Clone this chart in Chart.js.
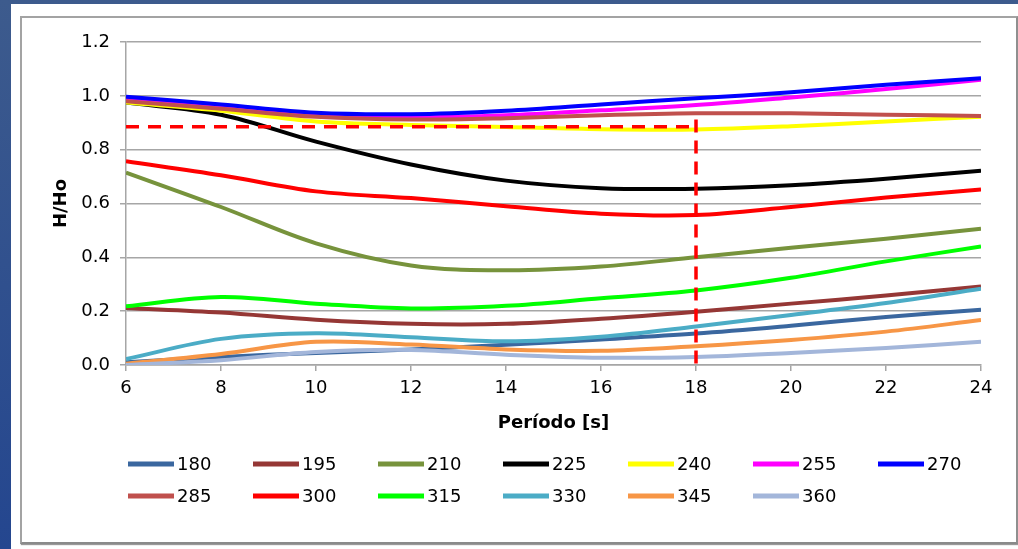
<!DOCTYPE html>
<html><head><meta charset="utf-8">
<script src="https://cdn.jsdelivr.net/npm/chart.js@4.4.0/dist/chart.umd.min.js"></script>
<style>
html,body{margin:0;padding:0;width:1018px;height:549px;overflow:hidden;background:linear-gradient(#3d5b8d,#24468f);}
#panel{position:absolute;left:11px;top:4px;right:0;bottom:0;background:#fff;}
#frame{position:absolute;left:20px;top:16px;width:994px;height:524px;border:2px solid #a3a3a3;border-right-color:#8f8f8f;border-bottom-color:#8a8a8a;box-shadow:1px 1px 1px #999;}
canvas{position:absolute;left:0;top:0;}
</style></head>
<body>
<div id="panel"></div>
<div id="frame"></div>
<canvas id="c" width="1018" height="549"></canvas>
<script>
const periods = [6, 8, 10, 12, 14, 16, 18, 20, 22, 24];
const seriesNames = ['180','195','210','225','240','255','270','285','300','315','330','345','360'];
const s180 = [0.010, 0.030, 0.045, 0.058, 0.075, 0.095, 0.117, 0.146, 0.178, 0.205];
const s195 = [0.212, 0.195, 0.168, 0.153, 0.153, 0.172, 0.198, 0.228, 0.258, 0.292];
const s210 = [0.715, 0.587, 0.452, 0.370, 0.352, 0.366, 0.400, 0.436, 0.469, 0.506];
const s225 = [0.975, 0.930, 0.830, 0.745, 0.685, 0.657, 0.655, 0.668, 0.692, 0.722];
const s240 = [0.975, 0.945, 0.905, 0.892, 0.884, 0.876, 0.875, 0.887, 0.905, 0.922];
const s255 = [0.985, 0.957, 0.927, 0.920, 0.928, 0.946, 0.966, 0.994, 1.025, 1.060];
const s270 = [0.997, 0.968, 0.937, 0.932, 0.945, 0.968, 0.991, 1.013, 1.041, 1.065];
const s285 = [0.980, 0.952, 0.922, 0.912, 0.917, 0.928, 0.935, 0.935, 0.930, 0.925];
const s300 = [0.757, 0.705, 0.645, 0.620, 0.590, 0.562, 0.557, 0.587, 0.622, 0.652];
const s315 = [0.218, 0.253, 0.228, 0.210, 0.220, 0.248, 0.277, 0.324, 0.385, 0.440];
const s330 = [0.022, 0.097, 0.118, 0.103, 0.088, 0.105, 0.143, 0.186, 0.230, 0.283];
const s345 = [0.005, 0.041, 0.086, 0.076, 0.058, 0.053, 0.070, 0.093, 0.124, 0.167];
const s360 = [0.000, 0.018, 0.048, 0.056, 0.038, 0.027, 0.030, 0.045, 0.063, 0.086];
const seriesValues = [s180, s195, s210, s225, s240, s255, s270, s285, s300, s315, s330, s345, s360];
const seriesColors = ['#3a679f','#953735','#77933c','#000000','#ffff00','#ff00ff','#0000ff','#c0504d','#ff0000','#00ff00','#4bacc6','#f79646','#a3b6da'];
const refHX = [6, 18];
const refHY = [0.885, 0.885];
const refVX = [18, 18];
const refVY = [0.912, 0];
const yTicks = [0, 0.2, 0.4, 0.6, 0.8, 1.0, 1.2];
const xTicks = [6, 8, 10, 12, 14, 16, 18, 20, 22, 24];

const FONT = '"DejaVu Sans", "Liberation Sans", Arial, sans-serif';
const GRID = '#a6a6a6';

const datasets = seriesNames.map((n, i) => ({
  label: n,
  data: periods.map((p, j) => ({x: p, y: seriesValues[i][j]})),
  borderColor: seriesColors[i],
  backgroundColor: seriesColors[i],
  borderWidth: 4,
  pointRadius: 0,
  tension: 0.35,
  fill: false,
  order: 20 - i
}));
datasets.push({
  label: 'refH',
  data: refHX.map((x, j) => ({x, y: refHY[j]})),
  borderColor: '#ff0000', borderWidth: 3.5, borderDash: [13, 9], pointRadius: 0, tension: 0, order: 1
});
datasets.push({
  label: 'refV',
  data: refVX.map((x, j) => ({x, y: refVY[j]})),
  borderColor: '#ff0000', borderWidth: 3.5, borderDash: [13, 8], pointRadius: 0, tension: 0, order: 0
});

const legendPlugin = {
  id: 'rowLegend',
  afterDraw(chart) {
    const ctx = chart.ctx, a = chart.chartArea;
    ctx.save();
    ctx.font = '18px ' + FONT;
    ctx.textBaseline = 'middle';
    ctx.textAlign = 'left';
    seriesNames.forEach((n, i) => {
      const row = Math.floor(i / 7), col = i % 7;
      const x = a.left + 2 + col * 125;
      const y = a.bottom + 99 + row * 32;
      ctx.strokeStyle = seriesColors[i];
      ctx.lineWidth = 5;
      ctx.lineCap = 'butt';
      ctx.beginPath(); ctx.moveTo(x, y); ctx.lineTo(x + 46, y); ctx.stroke();
      ctx.fillStyle = '#000';
      ctx.fillText(n, x + 49, y + 1);
    });
    ctx.restore();
  }
};

new Chart(document.getElementById('c'), {
  type: 'line',
  data: { datasets },
  options: {
    responsive: false,
    animation: false,
    devicePixelRatio: 1,
    layout: { padding: { left: 21, right: 37, top: 42, bottom: 115 } },
    plugins: { legend: { display: false }, tooltip: { enabled: false } },
    scales: {
      x: {
        type: 'linear', min: 6, max: 24,
        afterBuildTicks: s => { s.ticks = xTicks.map(v => ({value: v})); },
        afterFit: s => { s.height = 69; },
        ticks: { color: '#000', font: { size: 18, family: FONT }, padding: 7, maxRotation: 0, autoSkip: false },
        grid: { drawOnChartArea: false, drawTicks: true, tickLength: 6, color: GRID, lineWidth: 1.5 },
        border: { color: GRID, width: 1.5 },
        title: { display: true, text: 'Período [s]', color: '#000', font: { size: 18, weight: 'bold', family: FONT }, padding: { top: 0, bottom: 0 } }
      },
      y: {
        min: 0, max: 1.2,
        afterBuildTicks: s => { s.ticks = yTicks.map(v => ({value: v})); },
        afterFit: s => { s.width = 105; },
        ticks: { color: '#000', font: { size: 18, family: FONT }, padding: 10, callback: v => v.toFixed(1) },
        grid: { drawTicks: true, tickLength: 6, color: GRID, lineWidth: 1.5 },
        border: { color: GRID, width: 1.5 },
        title: { display: true, text: 'H/Ho', color: '#000', font: { size: 18, weight: 'bold', family: FONT }, padding: { top: 30, bottom: 0 } }
      }
    }
  },
  plugins: [legendPlugin]
});
</script>
</body></html>
